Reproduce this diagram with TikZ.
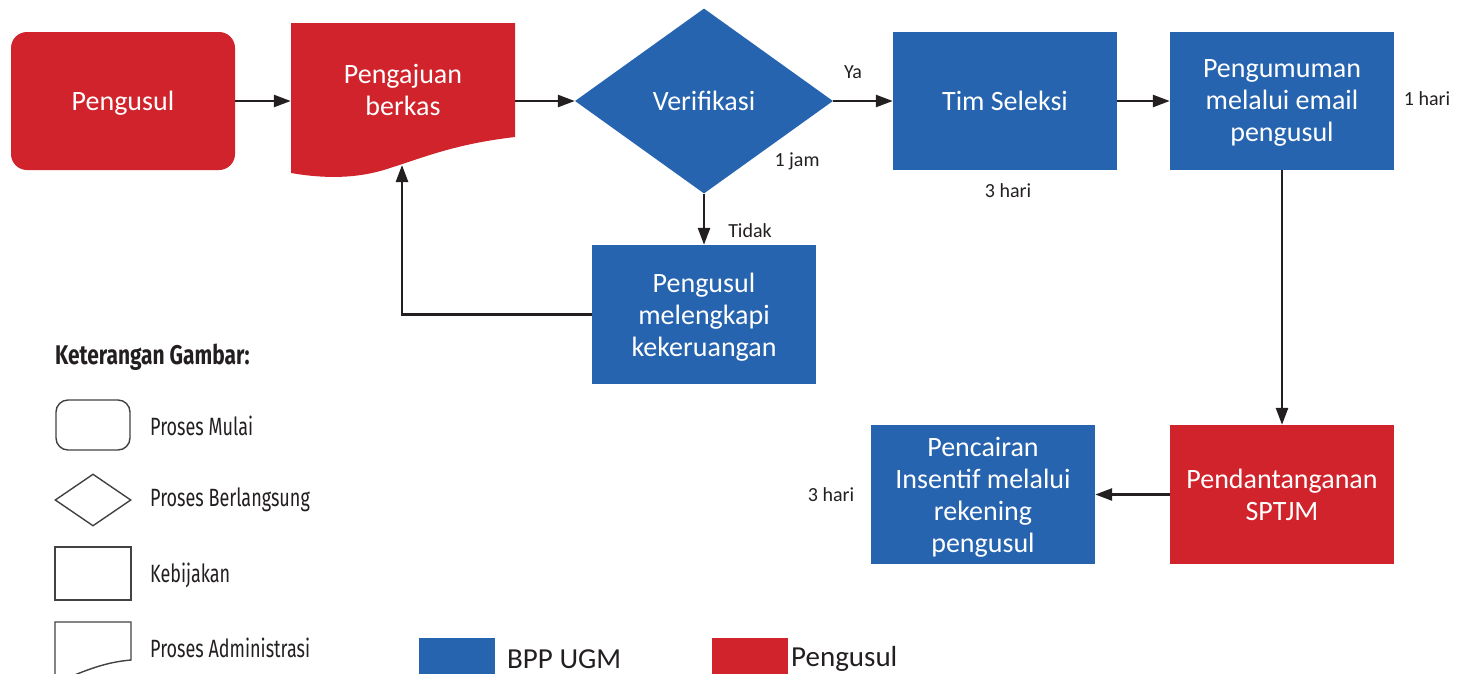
\documentclass[tikz,border=0pt]{standalone}
\usepackage{fontspec}
\setmainfont{Carlito}
\newfontfamily\legendfont[FakeStretch=0.72]{Fira Sans}
\newfontfamily\legendhead[FakeStretch=0.775]{Fira Sans}
\usetikzlibrary{arrows.meta,shapes.geometric,calc}
\definecolor{ugmblue}{RGB}{39,100,175}
\definecolor{ugmred}{RGB}{208,35,43}
\definecolor{ink}{RGB}{35,31,32}

\begin{document}
\begin{tikzpicture}[x=1pt,y=-1pt,
  box/.style={rectangle, minimum width=224pt, minimum height=138pt, inner sep=0pt,
    align=center, text=white, text depth=-4pt, font=\fontsize{28}{32}\selectfont},
  bluebox/.style={box, fill=ugmblue},
  redbox/.style={box, fill=ugmred},
  flow/.style={draw=ink, line width=2.6pt, -{Triangle[length=17pt,width=12pt]}},
  note/.style={font=\fontsize{20}{24}\selectfont, text=ink, inner sep=0pt},
  legshape/.style={draw=ink!85, line width=1.4pt, fill=white},
  legtext/.style={font=\legendfont\fontsize{25}{28}\selectfont, anchor=west, inner sep=0pt, text=ink},
  swatchtext/.style={font=\fontsize{29}{32}\selectfont, anchor=west, inner sep=0pt, text=ink},
]
\useasboundingbox (0,0) rectangle (1464,673);
\clip (0,0) rectangle (1464,673);

% ---- main flow ----
\node[redbox, rounded corners=16pt] (pengusul) at (123,101) {Pengusul};

% document shape with wavy lower edge
\fill[ugmred] (291,23) -- (515,23) -- (515,137)
  .. controls (455,144) and (425,157) .. (390,168)
  .. controls (355,180) and (320,178) .. (291,173) -- cycle;
\node[box, minimum height=134pt, text depth=0pt] (doc) at (403,90) {Pengajuan\\berkas};

\node[diamond, fill=ugmblue, minimum width=258pt, minimum height=185pt, inner sep=0pt,
  text=white, text depth=-2pt, font=\fontsize{28}{32}\selectfont] (verif) at (704,101) {Verifikasi};

\node[bluebox] (tim) at (1005,101) {Tim Seleksi};
\node[bluebox] (umum) at (1282,101) {Pengumuman\\melalui email\\pengusul};
\node[bluebox, minimum height=139pt] (lengkap) at (704,314.5) {Pengusul\\melengkapi\\kekeruangan};
\node[redbox, minimum height=139pt] (ttd) at (1282,494.5) {Pendantanganan\\SPTJM};
\node[bluebox, minimum height=139pt] (cair) at (983,494.5) {Pencairan\\Insentif melalui\\rekening\\pengusul};

\coordinate (docin) at (402,165);

\draw[flow] (pengusul.east) -- (doc.west |- pengusul.east);
\draw[flow] (doc.east |- verif.west) -- (verif.west);
\draw[flow] (verif.east) -- (tim.west);
\draw[flow] (tim.east) -- (umum.west);
\draw[flow] (verif.south) -- (lengkap.north);
\draw[flow] (lengkap.west) -| (docin);
\draw[flow] (umum.south) -- (ttd.north);
\draw[flow] (ttd.west) -- (cair.east);

% ---- annotations ----
\node[note] (ya) at (853,72) {Ya};
\node[note] (tidak) at (750,231) {Tidak};
\node[note] (jam) at (797,161) {1 jam};
\node[note] (hari1) at (1008,191) {3 hari};
\node[note] (hari2) at (1427,99) {1 hari};
\node[note] (hari3) at (831,495) {3 hari};

% ---- shape legend ----
\node[legtext, font=\legendhead\bfseries\fontsize{27}{30}\selectfont] (lhead) at (55,357) {Keterangan Gambar:};
\node[legshape, rectangle, rounded corners=12pt, minimum width=74pt, minimum height=50pt] (lmulai) at (93,425) {};
\node[legshape, diamond, minimum width=76pt, minimum height=52pt, inner sep=0pt] (lberl) at (93,500) {};
\node[legshape, rectangle, minimum width=76pt, minimum height=53pt] (lkeb) at (93,573.5) {};
\filldraw[legshape] (55,700) -- (55,622) -- (131,622) -- (131,660)
  .. controls (108,662) and (92,668) .. (72,676) -- (55,700);
\node[legtext] (tmulai) at (150,426) {Proses Mulai};
\node[legtext] (tberl) at (150,500) {Proses Berlangsung};
\node[legtext] (tkeb) at (150,575) {Kebijakan};
\node[legtext] (tadm) at (150,648) {Proses Administrasi};

% ---- colour legend ----
\fill[ugmblue] (419,638) rectangle (495,690);
\node[swatchtext] (tbpp) at (507,659) {BPP UGM};
\fill[ugmred] (712,638) rectangle (788,690);
\node[swatchtext] (tpeng) at (791,659) {Pengusul};
\end{tikzpicture}
\end{document}
